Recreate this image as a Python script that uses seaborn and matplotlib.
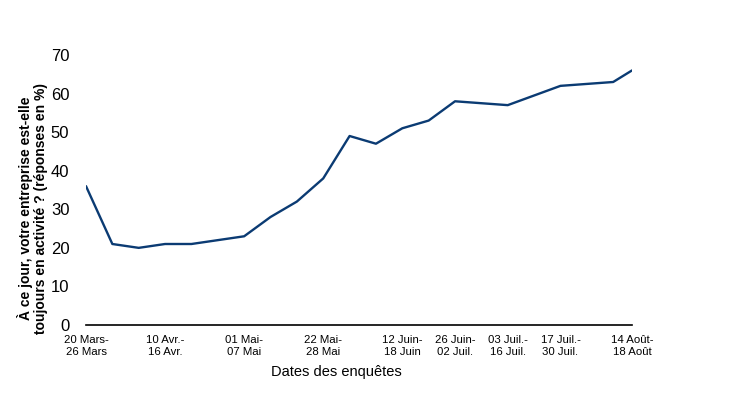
import matplotlib
matplotlib.use("Agg")
import matplotlib.pyplot as plt
import pandas as pd
import seaborn as sns

# positions des enquêtes (jours depuis le 20 mars, espacement du graphique d'origine)
jours = [0, 7, 14, 21, 28, 35, 42, 49, 56, 63, 70, 77, 84, 91, 98, 112, 126, 140, 145]
en_activite = [36, 21, 20, 21, 21, 22, 23, 28, 32, 38, 49, 47, 51, 53, 58, 57, 62, 63, 66]

tick_jours = [0, 21, 42, 63, 84, 98, 112, 126, 145]
tick_labels = [
    "20 Mars-\n26 Mars", "10 Avr.-\n16 Avr.", "01 Mai-\n07 Mai", "22 Mai-\n28 Mai",
    "12 Juin-\n18 Juin", "26 Juin-\n02 Juil.", "03 Juil.-\n16 Juil.", "17 Juil.-\n30 Juil.",
    "14 Août-\n18 Août",
]
y_ticks = [0, 10, 20, 30, 40, 50, 60, 70]

sns.set_style("white")
plt.rcParams["font.family"] = ["Liberation Sans", "DejaVu Sans"]

df = pd.DataFrame({"jour": jours, "part": en_activite})

fig = plt.figure(figsize=(7.46, 3.99), dpi=100)
ax = fig.add_axes([86 / 746, (399 - 325) / 399, 546 / 746, 270 / 399])

sns.lineplot(data=df, x="jour", y="part", ax=ax, color="#0b3b73", linewidth=1.7)

ax.set_xlim(jours[0], jours[-1])
ax.set_ylim(0, 70)
ax.set_yticks(y_ticks)
ax.set_xticks(tick_jours)
ax.set_xticklabels(tick_labels, fontsize=8.2, linespacing=1.3)
ax.tick_params(axis="y", labelsize=12, length=0, pad=12, labelcolor="black")
ax.tick_params(axis="x", length=0, pad=7, labelcolor="black")

for side in ["top", "right", "left"]:
    ax.spines[side].set_visible(False)
ax.spines["bottom"].set_color("black")
ax.spines["bottom"].set_linewidth(1.2)

ax.set_xlabel("Dates des enquêtes", fontsize=10.5, color="black")
ax.xaxis.set_label_coords(0.459, -0.148)
ax.set_ylabel("À ce jour, votre entreprise est-elle\ntoujours en activité ? (réponses en %)",
              fontsize=10, fontweight="bold", linespacing=1.15, color="black")
ax.yaxis.set_label_coords(-0.069, 0.433)

fig.savefig("out.png", dpi=100)
plt.close(fig)
